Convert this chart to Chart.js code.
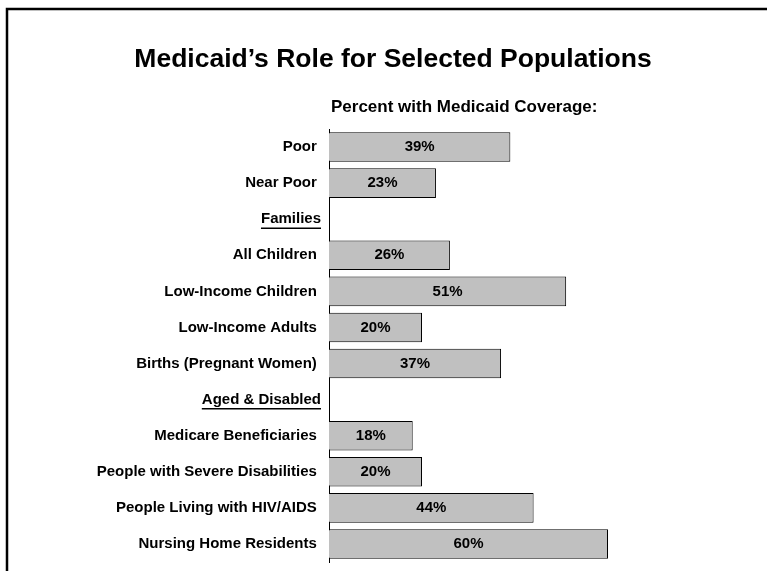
<!DOCTYPE html>
<html>
<head>
<meta charset="utf-8">
<script src="https://cdn.jsdelivr.net/npm/chart.js@4"></script>
<style>
  html, body { margin: 0; padding: 0; background: #fff; }
  #wrap { width: 767px; height: 571px; }
</style>
</head>
<body>
<div id="wrap"><canvas id="grafico-medicaid" width="767" height="571"></canvas></div>
<script>
// categorias e valores
const categorias = [
  "Poor", "Near Poor", "Families", "All Children", "Low-Income Children",
  "Low-Income Adults", "Births (Pregnant Women)", "Aged & Disabled",
  "Medicare Beneficiaries", "People with Severe Disabilities",
  "People Living with HIV/AIDS", "Nursing Home Residents"
];
const cabecalhos = ["Families", "Aged & Disabled"];
const percentuais = [39, 23, null, 26, 51, 20, 37, null, 18, 20, 44, 60];
const titulo = "Medicaid\u2019s Role for Selected Populations";
const subtitulo = "Percent with Medicaid Coverage:";

const fonte = "'Liberation Sans', Arial, sans-serif";

// moldura, titulos, sublinhado dos cabecalhos e rotulos das barras
const pluginDesenho = {
  id: "desenho",
  afterDraw(chart) {
    const ctx = chart.ctx;
    const area = chart.chartArea;
    ctx.save();
    ctx.strokeStyle = "#000";
    ctx.lineWidth = 2.5;
    ctx.beginPath();
    ctx.moveTo(7, 571);
    ctx.lineTo(7, 9);
    ctx.lineTo(767, 9);
    ctx.stroke();

    ctx.fillStyle = "#000";
    ctx.textBaseline = "middle";
    ctx.textAlign = "center";
    ctx.font = "bold 26.5px " + fonte;
    ctx.fillText(titulo, 393, 60);
    ctx.textAlign = "left";
    ctx.font = "bold 17px " + fonte;
    ctx.fillText(subtitulo, area.left + 2, 107);

    // sublinhado
    const eixoY = chart.scales.y;
    ctx.font = "bold 15px " + fonte;
    ctx.lineWidth = 1.5;
    categorias.forEach((c, i) => {
      if (cabecalhos.includes(c)) {
        const w = ctx.measureText(c).width;
        const y = eixoY.getPixelForValue(i) + 9;
        const xr = area.left - 8;
        ctx.beginPath();
        ctx.moveTo(xr - w, y);
        ctx.lineTo(xr, y);
        ctx.stroke();
      }
    });

    // valores dentro das barras
    ctx.textAlign = "center";
    ctx.font = "bold 15px " + fonte;
    const meta = chart.getDatasetMeta(0);
    meta.data.forEach((bar, i) => {
      if (percentuais[i] == null) return;
      ctx.fillText(percentuais[i] + "%", (bar.x + bar.base) / 2, bar.y);
    });
    ctx.restore();
  }
};

const data_barras = {
  labels: categorias,
  datasets: [
    {
      data: percentuais,
      backgroundColor: "#C0C0C0",
      borderColor: "#000",
      borderWidth: 1,
      borderSkipped: "left",
      categoryPercentage: 1,
      barPercentage: 0.82,
    },
  ],
};

const config_barras = {
  type: "bar",
  data: data_barras,
  options: {
    indexAxis: "y",
    responsive: false,
    animation: false,
    layout: { padding: { top: 129, bottom: 8, right: 66, left: 0 } },
    plugins: {
      legend: { display: false },
      title: { display: false },
      tooltip: { enabled: false },
    },
    scales: {
      x: {
        display: false,
        min: 0,
        max: 80,
      },
      y: {
        grid: { display: false },
        border: { display: true, color: "#000", width: 1 },
        afterFit(scale) { scale.width = 329; },
        ticks: {
          color: "#000",
          padding: 0,
          font: { family: fonte, size: 15, weight: "bold" },
          callback: function (v, i) {
            const c = categorias[i];
            return cabecalhos.includes(c) ? c : c + " ";
          },
        },
      },
    },
  },
  plugins: [pluginDesenho],
};

var myChart = new Chart(document.getElementById("grafico-medicaid"), config_barras);
</script>
</body>
</html>
